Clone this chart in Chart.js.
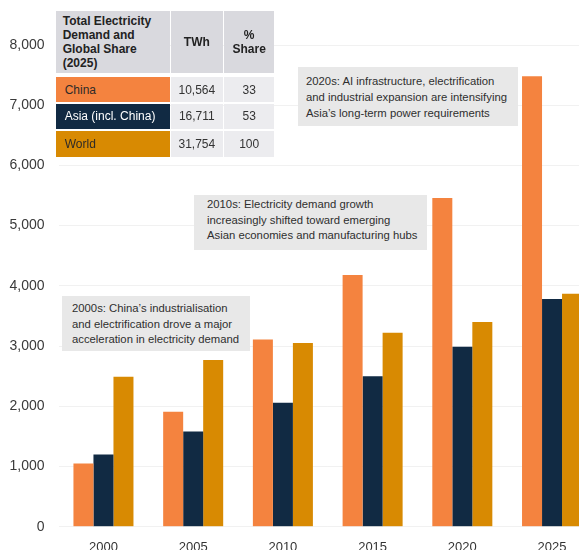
<!DOCTYPE html>
<html>
<head>
<meta charset="utf-8">
<script src="https://cdn.jsdelivr.net/npm/chart.js@4.4.1/dist/chart.umd.min.js"></script>
<style>
html, body { margin: 0; padding: 0; overflow: hidden; background: #fff; }
#wrap { position: relative; width: 579px; height: 550px; overflow: hidden; font-family: "Liberation Sans", Arial, sans-serif; }
#chart { position: absolute; left: 0; top: 0; }
.cell { position: absolute; box-sizing: border-box; font-size: 12px; color: #222; display: flex; align-items: center; }
.head { background: #d9d9de; font-weight: bold; line-height: 14px; }
.val { background: #ececef; justify-content: center; color: #333; }
.note { position: absolute; box-sizing: border-box; background: #e8e8e8; color: #2f2f2f; font-size: 11.3px; white-space: nowrap; }
</style>
</head>
<body>
<div id="wrap">
  <canvas id="chart" width="600" height="570"></canvas>
  <div id="table"></div>
  <div class="note" style="left:298px;top:67px;width:220px;height:59px;padding:6px 0 0 8px;line-height:16px;">2020s: AI infrastructure, electrification<br>and industrial expansion are intensifying<br>Asia’s long-term power requirements</div>
  <div class="note" style="left:194px;top:195px;width:233px;height:55px;padding:2px 0 0 13px;line-height:15.5px;">2010s: Electricity demand growth<br>increasingly shifted toward emerging<br>Asian economies and manufacturing hubs</div>
  <div class="note" style="left:62px;top:296px;width:188px;height:55px;padding:5px 0 0 10px;line-height:15.5px;">2000s: China’s industrialisation<br>and electrification drove a major<br>acceleration in electricity demand</div>
</div>
<script>
// electricity demand, TWh
const years = ['2000', '2005', '2010', '2015', '2020', '2025'];
const chinaTWh = [1050, 1910, 3110, 4180, 5460, 7480];
const asiaTWh = [1200, 1580, 2060, 2500, 2990, 3780];
const worldTWh = [2490, 2770, 3050, 3220, 3400, 3870];

// 2025 table
const tableNames = ['China', 'Asia (incl. China)', 'World'];
const tableTWh = ['10,564', '16,711', '31,754'];
const tableShare = ['33', '53', '100'];

const colChina = '#f4833f';
const colAsia = '#112a43';
const colWorld = '#d88a02';

// table built as html cells
const tbl = document.getElementById('table');
function cell(cls, x, y, w, h, html, extra) {
  const d = document.createElement('div');
  d.className = 'cell ' + cls;
  d.style.cssText = `left:${x}px;top:${y}px;width:${w}px;height:${h}px;` + (extra || '');
  d.innerHTML = html;
  tbl.appendChild(d);
}
cell('head', 55.7, 11, 114.3, 62, 'Total Electricity<br>Demand and<br>Global Share<br>(2025)', 'padding-left:7px;');
cell('head', 171, 11, 51.7, 62, 'TWh', 'justify-content:center;');
cell('head', 224, 11, 50.3, 62, '%<br>Share', 'justify-content:center;text-align:center;');
const rowTops = [77.3, 103.7, 130.7];
const rowH = [25, 25.6, 26];
const rowCols = [colChina, colAsia, colWorld];
const rowText = ['#2e2a28', '#ffffff', '#2e2a28'];
tableNames.forEach((n, i) => {
  cell('', 55.7, rowTops[i], 114.3, rowH[i], n, `background:${rowCols[i]};color:${rowText[i]};padding-left:9px;`);
  cell('val', 171, rowTops[i], 51.7, rowH[i], tableTWh[i]);
  cell('val', 224, rowTops[i], 50.3, rowH[i], tableShare[i]);
});

const config = {
  type: 'bar',
  data: {
    labels: years,
    datasets: [
      { label: 'China', data: chinaTWh, backgroundColor: colChina },
      { label: 'Asia (incl. China)', data: asiaTWh, backgroundColor: colAsia },
      { label: 'World', data: worldTWh, backgroundColor: colWorld }
    ]
  },
  options: {
    responsive: false,
    animation: false,
    devicePixelRatio: 1,
    datasets: { bar: { barPercentage: 1, categoryPercentage: 0.669 } },
    layout: { padding: { top: 45, right: 3.1, left: 0, bottom: 0 } },
    plugins: { legend: { display: false }, tooltip: { enabled: false } },
    scales: {
      x: {
        grid: { display: false },
        border: { display: false },
        ticks: { color: '#333', font: { family: 'Liberation Sans', size: 13 }, padding: 5 },
        afterFit: (s) => { s.height = 570 - 526.7; }
      },
      y: {
        min: 0,
        max: 8000,
        grid: { color: '#f1f1f1', drawTicks: false },
        border: { display: false },
        ticks: {
          stepSize: 1000,
          padding: 14,
          color: '#3a3a3a',
          font: { family: 'Liberation Sans', size: 14 },
          callback: (v) => v.toLocaleString('en-US')
        },
        afterFit: (s) => { s.width = 58.6; }
      }
    }
  }
};

const chart = new Chart(document.getElementById('chart'), config);
</script>
</body>
</html>
